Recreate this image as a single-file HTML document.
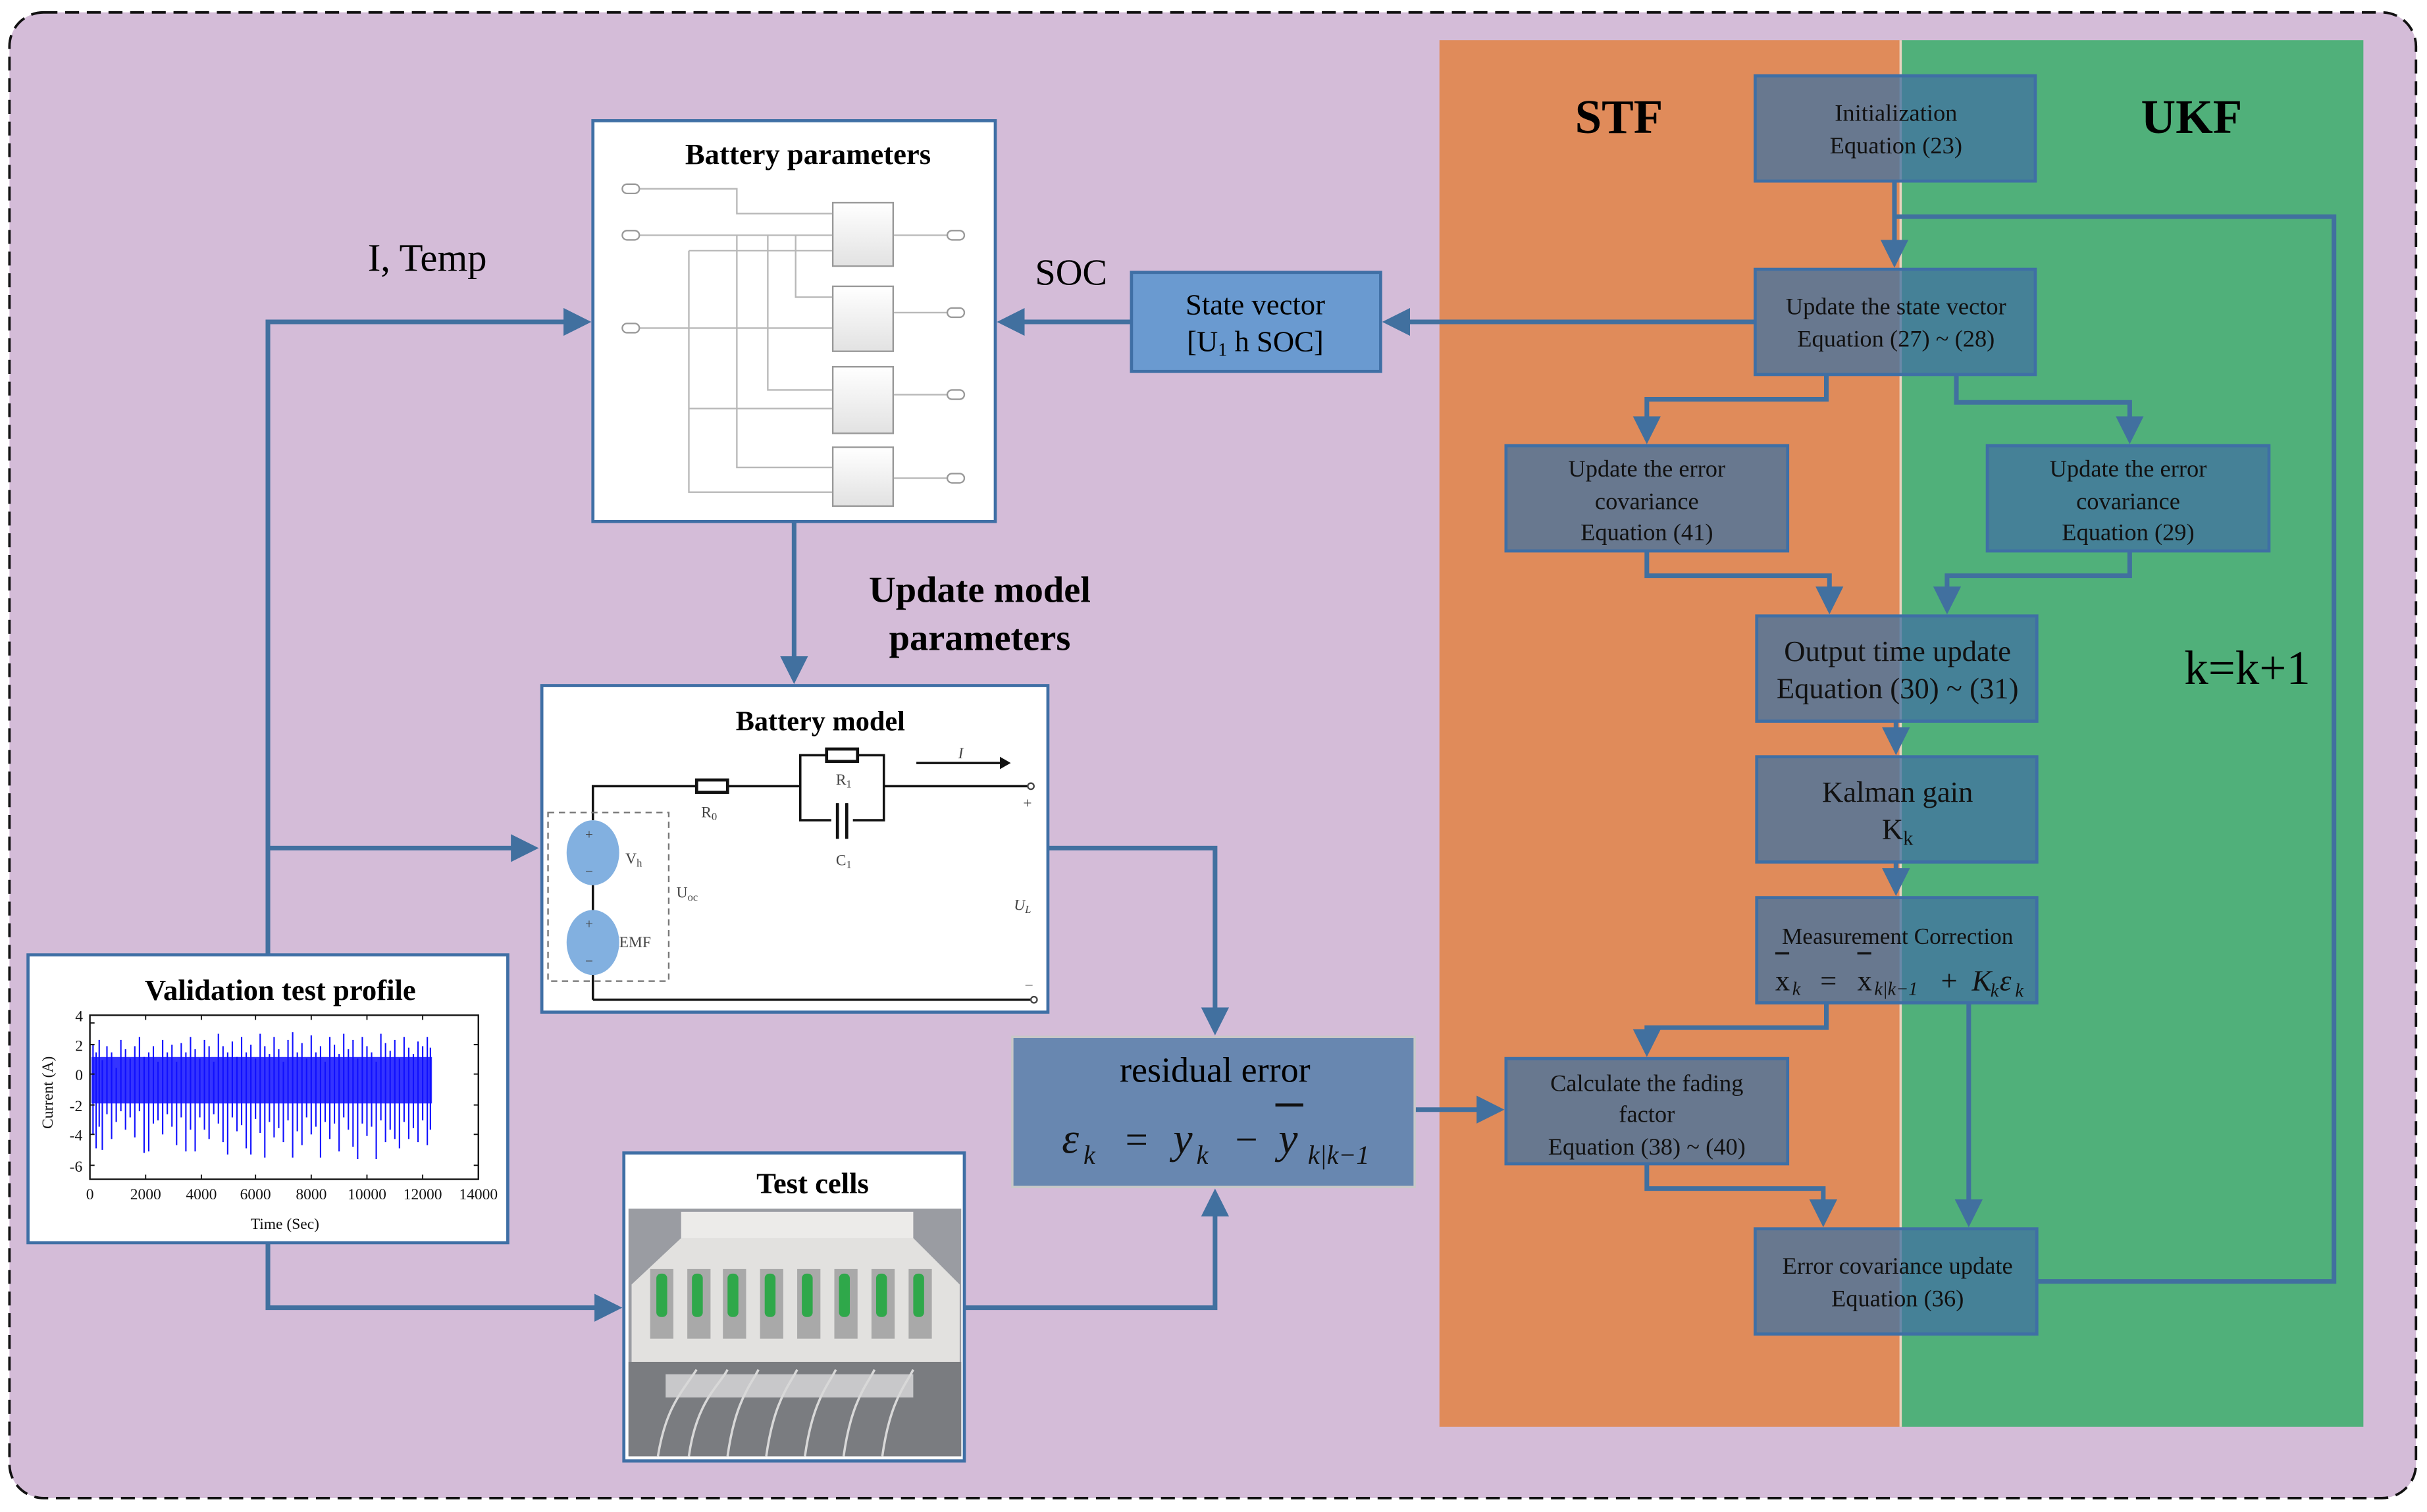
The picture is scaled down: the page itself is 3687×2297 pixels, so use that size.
<!DOCTYPE html>
<html><head><meta charset="utf-8"><style>
html,body{margin:0;padding:0;background:#fff;}
svg{display:block;}
text{font-family:"Liberation Serif",serif;}
</style></head><body>
<svg width="3687" height="2297" viewBox="0 0 1568 977" xmlns="http://www.w3.org/2000/svg">
<defs>
<marker id="ar" markerWidth="6" markerHeight="6" refX="5" refY="3" orient="auto" markerUnits="strokeWidth"><path d="M0,0 L6,3 L0,6 Z" fill="#41709f"/></marker>
<linearGradient id="gb" x1="0" y1="0" x2="0" y2="1"><stop offset="0" stop-color="#fff"/><stop offset="1" stop-color="#e2e2e2"/></linearGradient>
</defs>
<rect x="0" y="0" width="1568" height="977" fill="#fff"/>
<rect x="6" y="8" width="1555" height="960" rx="22" fill="#d4bcd8" stroke="#111" stroke-width="1.6" stroke-dasharray="9,5"/>
<rect x="930" y="26" width="298" height="896" fill="#e08b5a"/>
<rect x="1228" y="26" width="299" height="896" fill="#50b07a"/>
<line x1="1228" y1="26" x2="1228" y2="922" stroke="#e8d2c0" stroke-width="1.5"/>
<text x="1046" y="86" font-size="31" font-weight="bold" text-anchor="middle">STF</text>
<text x="1416" y="86" font-size="31" font-weight="bold" text-anchor="middle">UKF</text>
<text x="1452" y="442" font-size="31" text-anchor="middle">k=k+1</text>

<g stroke="#41709f" stroke-width="3" fill="none">
<path d="M1224 117 V170" marker-end="url(#ar)"/>
<path d="M1316 828 H1508 V140 H1224"/>
<path d="M1180 242 V258 H1064 V284" marker-end="url(#ar)"/>
<path d="M1264 242 V260 H1376 V284" marker-end="url(#ar)"/>
<path d="M1064 356 V372 H1182 V394" marker-end="url(#ar)"/>
<path d="M1376 356 V372 H1258 V394" marker-end="url(#ar)"/>
<path d="M1225 466 V485" marker-end="url(#ar)"/>
<path d="M1225 557 V576" marker-end="url(#ar)"/>
<path d="M1180 648 V664 H1064 V680" marker-end="url(#ar)"/>
<path d="M1272 648 V790" marker-end="url(#ar)"/>
<path d="M1064 752 V768 H1178 V790" marker-end="url(#ar)"/>
<path d="M1134 208 H896" marker-end="url(#ar)"/>
<path d="M731 208 H647" marker-end="url(#ar)"/>
<path d="M173 617 V208 H379" marker-end="url(#ar)"/>
<path d="M173 548 H345" marker-end="url(#ar)"/>
<path d="M173 803 V845 H399" marker-end="url(#ar)"/>
<path d="M513 337 V439" marker-end="url(#ar)"/>
<path d="M677 548 H785 V666" marker-end="url(#ar)"/>
<path d="M623 845 H785 V771" marker-end="url(#ar)"/>
<path d="M914 717 H969" marker-end="url(#ar)"/>
</g>

<g fill="rgb(66,115,160)" fill-opacity="0.76" stroke="#3f6fa5" stroke-width="2">
<rect x="1134" y="49" width="181" height="68"/>
<rect x="1134" y="174" width="181" height="68"/>
<rect x="973" y="288" width="182" height="68"/>
<rect x="1284" y="288" width="182" height="68"/>
<rect x="1135" y="398" width="181" height="68"/>
<rect x="1135" y="489" width="181" height="68"/>
<rect x="1135" y="580" width="181" height="68"/>
<rect x="973" y="684" width="182" height="68"/>
<rect x="1134" y="794" width="182" height="68"/>
</g>
<g font-size="15.5" text-anchor="middle" fill="#111">
<text x="1225" y="78">Initialization</text><text x="1225" y="99">Equation (23)</text>
<text x="1225" y="203">Update the state vector</text><text x="1225" y="224">Equation (27) ~ (28)</text>
<text x="1064" y="308">Update the error</text><text x="1064" y="329">covariance</text><text x="1064" y="349">Equation (41)</text>
<text x="1375" y="308">Update the error</text><text x="1375" y="329">covariance</text><text x="1375" y="349">Equation (29)</text>
<text x="1064" y="705">Calculate the fading</text><text x="1064" y="725">factor</text><text x="1064" y="746">Equation (38) ~ (40)</text>
<text x="1226" y="823">Error covariance update</text><text x="1226" y="844">Equation (36)</text>
<text x="1226" y="610" font-size="15">Measurement Correction</text>
</g>
<g font-size="19" text-anchor="middle" fill="#111">
<text x="1226" y="427">Output time update</text><text x="1226" y="451">Equation (30) ~ (31)</text>
<text x="1226" y="518">Kalman gain</text><text x="1226" y="542">K<tspan font-size="13" dy="4">k</tspan></text>
</g>
<g fill="#111">
<text x="1147" y="640" font-size="19">x</text>
<text x="1158" y="643" font-size="12" font-style="italic">k</text>
<text x="1176" y="640" font-size="19">=</text>
<text x="1200" y="640" font-size="19">x</text>
<text x="1211" y="643" font-size="12" font-style="italic">k|k−1</text>
<text x="1254" y="640" font-size="19">+</text>
<text x="1274" y="640" font-size="19" font-style="italic">K</text>
<text x="1286" y="644" font-size="12" font-style="italic">k</text>
<text x="1292" y="640" font-size="19" font-style="italic">ε</text>
<text x="1302" y="644" font-size="12" font-style="italic">k</text>
</g>
<line x1="1147" y1="616" x2="1156" y2="616" stroke="#111" stroke-width="1.5"/>
<line x1="1200" y1="616" x2="1209" y2="616" stroke="#111" stroke-width="1.5"/>

<rect x="731" y="176" width="161" height="64" fill="#6a9ad0" stroke="#3f6fa5" stroke-width="2"/>
<text x="811" y="203" font-size="19" text-anchor="middle">State vector</text>
<text x="811" y="227" font-size="19" text-anchor="middle">[U<tspan font-size="12" dy="3">1</tspan><tspan dy="-3"> h SOC]</tspan></text>
<text x="692" y="184" font-size="24" text-anchor="middle">SOC</text>
<text x="276" y="175" font-size="25" text-anchor="middle">I, Temp</text>
<text x="633" y="389" font-size="24" font-weight="bold" text-anchor="middle">Update model</text>
<text x="633" y="420" font-size="24" font-weight="bold" text-anchor="middle">parameters</text>

<rect x="654" y="670" width="260" height="97" fill="#6887b0" stroke="#c8c8c8" stroke-width="1.5"/>
<text x="785" y="699" font-size="23" text-anchor="middle">residual error</text>
<g fill="#111" font-style="italic">
<text x="686" y="745" font-size="28">ε</text>
<text x="700" y="752" font-size="17">k</text>
<text x="727" y="745" font-size="26" font-style="normal">=</text>
<text x="758" y="745" font-size="28">y</text>
<text x="773" y="752" font-size="17">k</text>
<text x="798" y="745" font-size="26" font-style="normal">−</text>
<text x="826" y="745" font-size="28">y</text>
<text x="845" y="752" font-size="17">k|k−1</text>
</g>
<line x1="824" y1="714" x2="842" y2="714" stroke="#111" stroke-width="2"/>

<rect x="383" y="78" width="260" height="259" fill="#fff" stroke="#3f6fa5" stroke-width="2"/>
<text x="522" y="106" font-size="19" font-weight="bold" text-anchor="middle">Battery parameters</text>
<g stroke="#b8b8b8" stroke-width="1" fill="none">
<path d="M412 122 H476 V138 H538"/>
<path d="M412 152 H538"/>
<path d="M412 212 H538"/>
<path d="M445 162 H538 M445 162 V318 H538 M445 264 H538"/>
<path d="M476 152 V302 H538"/>
<path d="M496 152 V252 H538"/>
<path d="M514 152 V192 H538"/>
<path d="M577 152 H612 M577 202 H612 M577 255 H612 M577 309 H612"/>
</g>
<g fill="url(#gb)" stroke="#999" stroke-width="1">
<rect x="538" y="131" width="39" height="41"/><rect x="538" y="185" width="39" height="42"/>
<rect x="538" y="237" width="39" height="43"/><rect x="538" y="289" width="39" height="38"/>
</g>
<g fill="#fff" stroke="#999" stroke-width="1">
<rect x="402" y="119" width="11" height="6" rx="3"/><rect x="402" y="149" width="11" height="6" rx="3"/><rect x="402" y="209" width="11" height="6" rx="3"/>
<rect x="612" y="149" width="11" height="6" rx="3"/><rect x="612" y="199" width="11" height="6" rx="3"/><rect x="612" y="252" width="11" height="6" rx="3"/><rect x="612" y="306" width="11" height="6" rx="3"/>
</g>

<rect x="350" y="443" width="327" height="211" fill="#fff" stroke="#3f6fa5" stroke-width="2"/>
<text x="530" y="472" font-size="18" font-weight="bold" text-anchor="middle">Battery model</text>
<g stroke="#111" stroke-width="1.5" fill="none">
<path d="M383 530 V508 H450 M470 508 H517 M517 488 V530 H571 V488 Z M571 508 H665"/>
<path d="M383 646 H667 M383 626 V646 M383 570 V590"/>
<path d="M592 493 H648"/>
<line x1="541" y1="519" x2="541" y2="542"/><line x1="547" y1="519" x2="547" y2="542"/>
</g>
<rect x="537" y="520" width="14" height="20" fill="#fff"/>
<g stroke="#111" stroke-width="2"><line x1="541" y1="519" x2="541" y2="542"/><line x1="547" y1="519" x2="547" y2="542"/></g>
<path d="M646 489 L653 493 L646 497 Z" fill="#111"/>
<rect x="450" y="504" width="20" height="8" fill="#fff" stroke="#111" stroke-width="2"/>
<rect x="534" y="484" width="20" height="8" fill="#fff" stroke="#111" stroke-width="2"/>
<circle cx="666" cy="508" r="2" fill="#fff" stroke="#444"/><circle cx="668" cy="646" r="2" fill="#fff" stroke="#444"/>
<rect x="354" y="525" width="78" height="109" fill="none" stroke="#777" stroke-width="1" stroke-dasharray="4,3"/>
<ellipse cx="383" cy="551" rx="17" ry="21" fill="#82b0e0"/>
<ellipse cx="383" cy="609" rx="17" ry="21" fill="#82b0e0"/>
<g font-size="10" fill="#444">
<text x="404" y="558">V<tspan font-size="7" dy="2">h</tspan></text><text x="400" y="612">EMF</text>
<text x="437" y="580">U<tspan font-size="7" dy="2">oc</tspan></text><text x="453" y="528">R<tspan font-size="7" dy="2">0</tspan></text>
<text x="540" y="507">R<tspan font-size="7" dy="2">1</tspan></text><text x="540" y="559">C<tspan font-size="7" dy="2">1</tspan></text>
<text x="655" y="588" font-style="italic">U<tspan font-size="7" dy="2">L</tspan></text>
<text x="619" y="490" font-style="italic">I</text>
<text x="661" y="522">+</text><text x="662" y="640">−</text>
<text x="378" y="542" font-size="9">+</text><text x="378" y="566" font-size="9">−</text>
<text x="378" y="600" font-size="9">+</text><text x="378" y="624" font-size="9">−</text>
</g>

<rect x="18" y="617" width="310" height="186" fill="#fff" stroke="#3f6fa5" stroke-width="2"/>
<text x="181" y="646" font-size="19" font-weight="bold" text-anchor="middle">Validation test profile</text>
<rect x="58" y="656" width="251" height="106" fill="none" stroke="#111" stroke-width="1"/>
<rect x="59" y="683" width="220" height="30" fill="#1010ff" fill-opacity="0.85"/>
<g stroke="#1010ff" stroke-width="0.9">
<path d="M60 675V733 M62 680V742 M64 672V728 M66 685V743 M69 676V720 M72 680V736 M75 690V725 M78 672V718 M81 678V730 M84 684V722 M87 676V735 M90 670V718 M93 683V745 M96 680V744 M99 676V726 M102 686V724 M105 672V733 M108 680V720 M111 675V728 M114 686V740 M117 674V722 M120 680V744 M123 670V730 M126 678V744 M129 684V722 M132 672V730 M135 676V736 M138 686V720 M141 668V726 M144 676V738 M147 680V746 M150 673V722 M153 683V731 M156 670V727 M159 680V742 M162 675V746 M165 684V723 M168 668V732 M171 676V748 M174 681V725 M177 670V735 M180 678V729 M183 686V738 M186 672V724 M189 667V748 M192 680V731 M195 674V740 M198 684V722 M201 669V733 M204 680V728 M207 676V748 M210 686V725 M213 670V736 M216 675V726 M219 681V744 M222 668V722 M225 678V730 M228 672V741 M231 684V749 M234 670V726 M237 676V734 M240 680V728 M243 686V749 M246 668V724 M249 674V738 M252 679V730 M255 672V736 M258 684V742 M261 670V725 M264 677V736 M267 681V729 M270 673V738 M273 676V724 M276 670V740 M278 677V730"/>
</g>
<g stroke="#111" stroke-width="0.8"><path d="M58 661h3M58 675h3M58 694h3M58 714h3M58 733h3M58 753h3M306 675h3M306 694h3M306 714h3M306 733h3M306 753h3M94 762v-3M130 762v-3M165 762v-3M201 762v-3M237 762v-3M273 762v-3M94 656v3M130 656v3M165 656v3M201 656v3M237 656v3M273 656v3"/></g>
<g font-size="10" text-anchor="middle" fill="#111">
<text x="51" y="660">4</text><text x="51" y="679">2</text><text x="51" y="698">0</text><text x="49" y="718">-2</text><text x="49" y="737">-4</text><text x="49" y="757">-6</text>
<text x="58" y="775">0</text><text x="94" y="775">2000</text><text x="130" y="775">4000</text><text x="165" y="775">6000</text><text x="201" y="775">8000</text><text x="237" y="775">10000</text><text x="273" y="775">12000</text><text x="309" y="775">14000</text>
<text x="184" y="794">Time (Sec)</text>
<text transform="translate(34,706) rotate(-90)">Current (A)</text>
</g>

<rect x="403" y="745" width="220" height="199" fill="#fff" stroke="#3f6fa5" stroke-width="2"/>
<text x="525" y="771" font-size="19" font-weight="bold" text-anchor="middle">Test cells</text>
<rect x="406" y="781" width="215" height="160" fill="#9a9ca2"/>
<rect x="440" y="783" width="150" height="50" fill="#ecebe9"/>
<path d="M408 830 L440 800 L590 800 L620 830 L620 880 L408 880 Z" fill="#e2e1df"/>
<rect x="406" y="880" width="215" height="61" fill="#7a7c80"/>
<rect x="430" y="888" width="160" height="15" fill="#c8c8ca"/>
<g stroke="#d8d8d8" stroke-width="1.5" fill="none"><path d="M425 941 C430 910 440 900 450 885 M445 941 C450 905 465 895 470 885 M470 941 C475 905 485 895 490 885 M495 941 C500 905 510 895 515 885 M520 941 C525 905 535 895 540 885 M545 941 C550 905 560 895 565 885 M570 941 C575 905 585 895 590 885"/></g>
<g fill="#a9a9a9"><rect x="420" y="820" width="15" height="45"/><rect x="444" y="820" width="15" height="45"/><rect x="467" y="820" width="15" height="45"/><rect x="491" y="820" width="15" height="45"/><rect x="515" y="820" width="15" height="45"/><rect x="539" y="820" width="15" height="45"/><rect x="563" y="820" width="15" height="45"/><rect x="587" y="820" width="15" height="45"/></g>
<g fill="#2fa84a">
<rect x="424" y="823" width="7" height="28" rx="3"/><rect x="447" y="823" width="7" height="28" rx="3"/><rect x="470" y="823" width="7" height="28" rx="3"/><rect x="494" y="823" width="7" height="28" rx="3"/><rect x="518" y="823" width="7" height="28" rx="3"/><rect x="542" y="823" width="7" height="28" rx="3"/><rect x="566" y="823" width="7" height="28" rx="3"/><rect x="590" y="823" width="7" height="28" rx="3"/>
</g>
</svg>
</body></html>
